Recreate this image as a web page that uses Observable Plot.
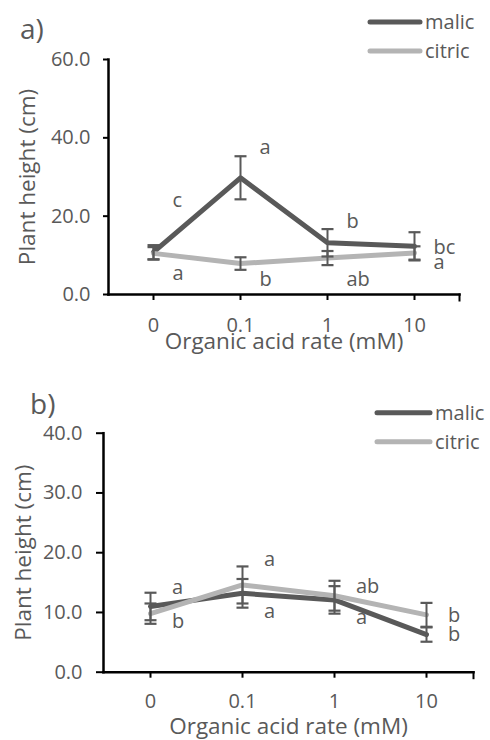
<!DOCTYPE html>
<html>
<head>
<meta charset="utf-8">
<script src="https://cdn.jsdelivr.net/npm/d3@7"></script>
<script src="https://cdn.jsdelivr.net/npm/@observablehq/plot@0.6"></script>
<style>
  html, body { margin: 0; padding: 0; background: #fff; }
  #root { width: 490px; height: 740px; overflow: hidden; }
  svg { display: block; }
  #root svg g[aria-label$="tick label"],
  #root svg g[aria-label$="tick label"] text {
    font-size: 20px !important;
    font-family: 'Open Sans', sans-serif !important;
    fill: #595959 !important;
  }
</style>
</head>
<body>
<div id="root"></div>
<script>
// ---------- data ----------
const rates = ["0", "0.1", "1", "10"];
const seriesNames = ["malic", "citric"];

// panel a
const malicA = [10.8, 29.8, 13.2, 12.3];
const malicAErr = [1.8, 5.5, 3.5, 3.6];
const citricA = [10.5, 7.9, 9.3, 10.6];
const citricAErr = [1.6, 1.6, 1.8, 1.7];
const malicLettersA = ["c", "a", "b", "bc"];
const malicLetterYA = [24.0, 37.5, 18.6, 11.9];
const citricLettersA = ["a", "b", "ab", "a"];
const citricLetterYA = [5.4, 3.8, 3.8, 8.2];
const yTicksA = [0, 20, 40, 60];

// panel b
const malicB = [11.0, 13.2, 12.1, 6.3];
const malicBErr = [2.3, 2.4, 2.3, 1.2];
const citricB = [9.8, 14.6, 12.8, 9.6];
const citricBErr = [1.7, 3.1, 2.5, 2.0];
const malicLettersB = ["a", "a", "a", "b"];
const malicLetterYB = [14.1, 10.2, 9.1, 6.3];
const citricLettersB = ["b", "a", "ab", "b"];
const citricLetterYB = [8.4, 18.9, 14.4, 9.4];
const yTicksB = [0, 10, 20, 30, 40];

const xTitle = "Organic acid rate (mM)";
const yTitle = "Plant height (cm)";

// ---------- styles ----------
const DARK = "#595959";
const LIGHT = "#b4b4b4";
const TXT = "#595959";
const FONT = "'Open Sans', sans-serif";

function rows(series, means, errs, letters, ly) {
  return rates.map((r, i) => ({
    rate: r, series, mean: means[i],
    lo: means[i] - errs[i], hi: means[i] + errs[i],
    letter: letters[i], ly: ly[i]
  }));
}

const capSymbol = {
  draw(ctx, size) {
    const r = Math.sqrt(size / Math.PI);
    ctx.moveTo(-r, 0);
    ctx.lineTo(r, 0);
  }
};

function legendMark(cfg) {
  return () => {
    const g = d3.create("svg:g");
    const items = [
      {name: seriesNames[0], color: DARK, y: cfg.legY[0]},
      {name: seriesNames[1], color: LIGHT, y: cfg.legY[1]}
    ];
    for (const it of items) {
      g.append("line")
        .attr("x1", cfg.legX[0]).attr("x2", cfg.legX[1])
        .attr("y1", it.y).attr("y2", it.y)
        .attr("stroke", it.color).attr("stroke-width", 5)
        .attr("stroke-linecap", "round");
      g.append("text")
        .attr("x", cfg.legX[2]).attr("y", it.y).attr("dy", "0.35em")
        .attr("text-anchor", "start")
        .attr("fill", TXT).attr("font-size", 20).attr("font-family", FONT)
        .text(it.name);
    }
    g.append("text")
      .attr("x", cfg.tag[1]).attr("y", cfg.tag[2])
      .attr("text-anchor", "start")
      .attr("fill", TXT).attr("font-size", 28).attr("font-family", FONT)
      .text(cfg.tag[0]);
    return g.node();
  };
}

function panel(cfg) {
  const m = rows("malic", cfg.malic, cfg.malicErr, cfg.malicLetters, cfg.malicLY);
  const c = rows("citric", cfg.citric, cfg.citricErr, cfg.citricLetters, cfg.citricLY);
  const all = m.concat(c);
  const plotH = cfg.height - cfg.mt - cfg.mb;
  return Plot.plot({
    width: 490,
    height: cfg.height,
    marginLeft: cfg.ml,
    marginRight: cfg.mr,
    marginTop: cfg.mt,
    marginBottom: cfg.mb,
    style: {fontFamily: FONT, fontSize: "20px", color: "black", background: "white", overflow: "visible"},
    x: {type: "point", domain: rates, padding: 0.5, axis: null},
    y: {domain: cfg.yDomain, axis: null},
    marks: [
      Plot.frame({anchor: "left", stroke: "black", strokeWidth: 2.5}),
      Plot.frame({anchor: "bottom", stroke: "black", strokeWidth: 2.5}),
      Plot.frame({anchor: "right", insetTop: plotH, insetBottom: -6, stroke: "black", strokeWidth: 2}),
      Plot.axisX({tickSize: 6, tickPadding: cfg.xPad, stroke: "black", strokeWidth: 2, fill: TXT, fontSize: 20, label: null}),
      Plot.axisY({ticks: cfg.yTicks, tickFormat: d => d.toFixed(1), tickSize: cfg.yTick, tickPadding: cfg.yPad, stroke: "black", strokeWidth: 2, fill: TXT, fontSize: 20, label: null}),
      Plot.line(m, {x: "rate", y: "mean", stroke: DARK, strokeWidth: 5}),
      Plot.line(c, {x: "rate", y: "mean", stroke: LIGHT, strokeWidth: 5}),
      Plot.ruleX(all, {x: "rate", y1: "lo", y2: "hi", stroke: DARK, strokeWidth: 2}),
      Plot.dot(all, {x: "rate", y: "lo", r: 6, symbol: capSymbol, stroke: DARK, strokeWidth: 2.2, fill: "none"}),
      Plot.dot(all, {x: "rate", y: "hi", r: 6, symbol: capSymbol, stroke: DARK, strokeWidth: 2.2, fill: "none"}),
      Plot.text(all, {x: "rate", y: "ly", text: "letter", textAnchor: "start", dx: cfg.letterDx, fill: TXT, fontSize: 20}),
      Plot.text([yTitle], {frameAnchor: "left", textAnchor: "middle", lineAnchor: "middle", rotate: -90, dx: cfg.yTitleDx, fill: TXT, fontSize: 22.5}),
      Plot.text([xTitle], {frameAnchor: "bottom", textAnchor: "middle", lineAnchor: "middle", dy: cfg.xTitleDy, fill: TXT, fontSize: 22.5}),
      legendMark(cfg)
    ]
  });
}

const root = document.getElementById("root");
root.append(panel({
  height: 370, ml: 108, mr: 31, mt: 59, mb: 76,
  yDomain: [0, 60], yTicks: yTicksA, yTick: 5, yPad: 13, xPad: 17,
  malic: malicA, malicErr: malicAErr, citric: citricA, citricErr: citricAErr,
  malicLetters: malicLettersA, malicLY: malicLetterYA,
  citricLetters: citricLettersA, citricLY: citricLetterYA,
  letterDx: 19, yTitleDx: -81, xTitleDy: 47,
  legX: [370, 420, 425], legY: [22, 51], tag: ["a)", 20, 39]
}));
root.append(panel({
  height: 370, ml: 103, mr: 17, mt: 62.7, mb: 68.3,
  yDomain: [0, 40], yTicks: yTicksB, yTick: 7, yPad: 14, xPad: 15.5,
  malic: malicB, malicErr: malicBErr, citric: citricB, citricErr: citricBErr,
  malicLetters: malicLettersB, malicLY: malicLetterYB,
  citricLetters: citricLettersB, citricLY: citricLetterYB,
  letterDx: 21.5, yTitleDx: -80, xTitleDy: 55,
  legX: [377, 430, 435], legY: [42.7, 71.7], tag: ["b)", 30, 43.5]
}));
</script>
</body>
</html>
